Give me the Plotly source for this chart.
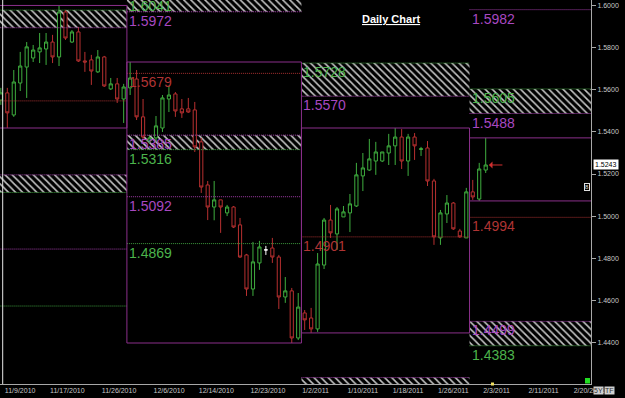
import datetime as dt
import plotly.graph_objects as go

# ---------------- data ----------------
first_day = "2010-11-08"
last_day = "2011-02-28"


def trading_days(a, b):
    d, e = dt.date.fromisoformat(a), dt.date.fromisoformat(b)
    out = []
    while d <= e:
        if d.weekday() != 5:  # daily FX bars: Sunday..Friday
            out.append(d)
        d += dt.timedelta(days=1)
    return out


dates = trading_days(first_day, last_day)

open_ = [1.5552, 1.5586, 1.5481, 1.5633, 1.5709, 1.5752, 1.5781, 1.5795, 1.5828, 1.5757,
         1.5971, 1.5828, 1.5876, 1.5738, 1.5743, 1.5686, 1.5757, 1.5605, 1.5629, 1.5557,
         1.5610, 1.5652, 1.5472, 1.5357, 1.5372, 1.5419, 1.5557, 1.5581, 1.5510, 1.5510,
         1.5505, 1.5353, 1.5148, 1.5043, 1.5077, 1.5015, 1.5043, 1.4958, 1.4815, 1.4653,
         1.4777, 1.4839, 1.4848, 1.4805, 1.4615, 1.4644, 1.4420, 1.4539, 1.4515, 1.4463,
         1.4767, 1.4981, 1.4915, 1.4996, 1.5015, 1.5048, 1.5191, 1.5219, 1.5262, 1.5262,
         1.5300, 1.5334, 1.5376, 1.5262, 1.5376, 1.5317, 1.5324, 1.5167, 1.4896, 1.5010,
         1.5062, 1.4929, 1.4896, 1.5115, 1.5081, 1.5219]
high = [1.5610, 1.5610, 1.5695, 1.5781, 1.5828, 1.5814, 1.5871, 1.5871, 1.5862, 1.6002,
        1.5981, 1.5885, 1.5900, 1.5781, 1.5767, 1.5790, 1.5762, 1.5657, 1.5657, 1.5629,
        1.5733, 1.5695, 1.5557, 1.5386, 1.5476, 1.5576, 1.5619, 1.5590, 1.5557, 1.5562,
        1.5543, 1.5372, 1.5167, 1.5167, 1.5077, 1.5053, 1.5048, 1.4991, 1.4820, 1.4877,
        1.4882, 1.4858, 1.4896, 1.4815, 1.4710, 1.4658, 1.4634, 1.4553, 1.4563, 1.4824,
        1.4991, 1.5053, 1.5043, 1.5048, 1.5105, 1.5253, 1.5300, 1.5367, 1.5353, 1.5305,
        1.5391, 1.5419, 1.5414, 1.5391, 1.5395, 1.5329, 1.5357, 1.5177, 1.5029, 1.5100,
        1.5067, 1.4939, 1.5134, 1.5172, 1.5253, 1.5372]
low = [1.5529, 1.5419, 1.5472, 1.5595, 1.5562, 1.5733, 1.5728, 1.5719, 1.5728, 1.5714,
       1.5838, 1.5824, 1.5733, 1.5686, 1.5624, 1.5681, 1.5614, 1.5600, 1.5538, 1.5443,
       1.5576, 1.5457, 1.5362, 1.5348, 1.5353, 1.5400, 1.5495, 1.5472, 1.5467, 1.5491,
       1.5305, 1.5110, 1.4981, 1.4980, 1.4920, 1.5000, 1.4943, 1.4801, 1.4620, 1.4620,
       1.4744, 1.4815, 1.4777, 1.4558, 1.4587, 1.4396, 1.4410, 1.4458, 1.4444, 1.4449,
       1.4748, 1.4896, 1.4839, 1.4996, 1.4924, 1.5043, 1.5119, 1.5215, 1.5196, 1.5257,
       1.5243, 1.5243, 1.5224, 1.5191, 1.5267, 1.5286, 1.5143, 1.4863, 1.4863, 1.4967,
       1.4934, 1.4896, 1.4896, 1.5077, 1.5072, 1.5205]
close = [1.5586, 1.5491, 1.5638, 1.5714, 1.5805, 1.5790, 1.5800, 1.5828, 1.5757, 1.5971,
         1.5847, 1.5876, 1.5738, 1.5733, 1.5690, 1.5757, 1.5619, 1.5629, 1.5557, 1.5614,
         1.5657, 1.5472, 1.5376, 1.5372, 1.5429, 1.5562, 1.5576, 1.5500, 1.5491, 1.5495,
         1.5329, 1.5138, 1.5043, 1.5077, 1.5043, 1.5043, 1.4948, 1.4805, 1.4653, 1.4782,
         1.4853, 1.4839, 1.4805, 1.4615, 1.4644, 1.4420, 1.4567, 1.4506, 1.4463, 1.4772,
         1.4981, 1.4920, 1.5034, 1.5020, 1.5058, 1.5196, 1.5229, 1.5272, 1.5305, 1.5305,
         1.5334, 1.5376, 1.5262, 1.5376, 1.5334, 1.5320, 1.5167, 1.4901, 1.5015, 1.5062,
         1.4939, 1.4901, 1.5115, 1.5091, 1.5224, 1.5243]

tick_dates = ["2010-11-09", "2010-11-17", "2010-11-26", "2010-12-06", "2010-12-14",
              "2010-12-23", "2011-01-02", "2011-01-10", "2011-01-18", "2011-01-26",
              "2011-02-03", "2011-02-11", "2011-02-20"]

# monthly levels projected into each month (None = off the chart)
level_months = [(2010, 11), (2010, 12), (2011, 1), (2011, 2)]
pivot = [1.5548, 1.5679, 1.4901, 1.4994]
r1 = [1.5896, 1.5972, 1.5570, 1.5488]
r2 = [1.5980, 1.6041, 1.5728, 1.5605]
r3 = [None, None, None, 1.5982]
s1 = [1.5196, 1.5385, 1.4232, 1.4499]
s2 = [1.5112, 1.5316, 1.4074, 1.4383]
s3 = [1.4843, 1.5092, None, None]
s4 = [1.4572, 1.4869, None, None]

y_ticks = [1.42, 1.44, 1.46, 1.48, 1.50, 1.52, 1.54, 1.56, 1.58, 1.60]
last_price = close[-1]

# ---------------- styles ----------------
GREEN = "#3fae3f"
RED = "#b83030"
BOX = "#8a2f8a"
PURPLE_DOT = "#a03ca8"
GREEN_DOT = "#3c9a3c"
RED_DOT = "#a83030"
PURPLE_TXT = "#a848c0"
GREEN_TXT = "#4cb44c"
RED_TXT = "#b03434"
AXIS = "#a8a8a8"
TICKTXT = "#c8c8c8"
X_RANGE = [-0.13, 91.29]
Y_RANGE = [1.4201, 1.6028]
PLOT_H = 384
PX_PER_UNIT = PLOT_H / (Y_RANGE[1] - Y_RANGE[0])
LABEL_FONT = "Liberation Sans"

# ---------------- derived ----------------
xi = list(range(len(open_)))


def month_span(y, m):
    idx = [i for i, d in enumerate(dates) if (d.year, d.month) == (y, m)]
    return idx[0] - 0.5, idx[-1] + 0.5, idx


fig = go.Figure()

# hatched zones
hx, hb, hh, hw = [], [], [], []
for k, (y, m) in enumerate(level_months):
    a, b, _ = month_span(y, m)
    for lo, hi in ((r1[k], r2[k]), (s2[k], s1[k])):
        if lo is None or hi is None:
            continue
        hx.append((a + b) / 2)
        hb.append(min(lo, hi))
        hh.append(abs(hi - lo))
        hw.append(b - a)
fig.add_trace(go.Bar(
    x=hx, y=hh, base=hb, width=hw,
    marker=dict(color="black", line=dict(width=0),
                pattern=dict(shape="\\", fgcolor="#c4c4c4", bgcolor="black",
                             size=5, solidity=0.32, fillmode="replace")),
    hoverinfo="skip"))

# level lines + labels
annotations = []
level_sets = [(r3, PURPLE_DOT, PURPLE_TXT), (r2, GREEN_DOT, GREEN_TXT),
              (r1, PURPLE_DOT, PURPLE_TXT), (pivot, RED_DOT, RED_TXT),
              (s1, PURPLE_DOT, PURPLE_TXT), (s2, GREEN_DOT, GREEN_TXT),
              (s3, PURPLE_DOT, PURPLE_TXT), (s4, GREEN_DOT, GREEN_TXT)]
for vals, lc, tc in level_sets:
    lx, ly = [], []
    for k, (y, m) in enumerate(level_months):
        v = vals[k]
        if v is None:
            continue
        a, b, _ = month_span(y, m)
        lx += [a, b, None]
        ly += [v, v, None]
        # label sits just under its line, at the left of the month; only if it fits
        if a >= X_RANGE[0] and Y_RANGE[0] + 0.007 <= v <= Y_RANGE[1] + 0.002:
            vy = min(v, Y_RANGE[1])
            annotations.append(dict(x=a, y=vy, xref="x", yref="y", text=f"{v:.4f}",
                                    showarrow=False, xanchor="left", yanchor="top",
                                    yshift=1 + (v - vy) * PX_PER_UNIT,
                                    font=dict(family=LABEL_FONT, size=14, color=tc)))
    fig.add_trace(go.Scatter(x=lx, y=ly, mode="lines", hoverinfo="skip",
                             line=dict(color=lc, width=1, dash="1px,1px")))

# monthly range boxes
bx, by = [], []
for (y, m) in level_months:
    a, b, idx = month_span(y, m)
    idx = [i for i in idx if i < len(open_)]
    if not idx:
        continue
    hi = max(high[i] for i in idx)
    lo = min(low[i] for i in idx)
    bx += [a, b, b, a, a, None]
    by += [lo, lo, hi, hi, lo, None]
fig.add_trace(go.Scatter(x=bx, y=by, mode="lines", hoverinfo="skip",
                         line=dict(color=BOX, width=1)))

# candles
dir_i = [i for i in xi if open_[i] != close[i]]
flat_i = [i for i in xi if open_[i] == close[i]]
fig.add_trace(go.Candlestick(
    x=dir_i, open=[open_[i] for i in dir_i], high=[high[i] for i in dir_i],
    low=[low[i] for i in dir_i], close=[close[i] for i in dir_i],
    increasing=dict(line=dict(color=GREEN, width=1), fillcolor="black"),
    decreasing=dict(line=dict(color=RED, width=1), fillcolor="black"),
    whiskerwidth=0, hoverinfo="skip"))
if flat_i:
    fig.add_trace(go.Candlestick(
        x=flat_i, open=[open_[i] for i in flat_i], high=[high[i] for i in flat_i],
        low=[low[i] for i in flat_i], close=[close[i] for i in flat_i],
        increasing=dict(line=dict(color="white", width=1), fillcolor="white"),
        decreasing=dict(line=dict(color="white", width=1), fillcolor="white"),
        whiskerwidth=0, hoverinfo="skip"))

# ---------------- axes / layout ----------------
tickvals = [dates.index(dt.date.fromisoformat(s)) for s in tick_dates]
ticktext = [f"{d.month}/{d.day}/{d.year}" for d in (dt.date.fromisoformat(s) for s in tick_dates)]

annotations += [
    dict(x=360 / 591, y=1 - 11 / 384, xref="paper", yref="paper", xanchor="left", yanchor="top",
         text="<b><u>Daily Chart</u></b>", showarrow=False,
         font=dict(family=LABEL_FONT, size=11, color="white")),
    dict(x=1, y=last_price, xref="paper", yref="y", xanchor="left", yanchor="middle",
         xshift=2, text=f"{last_price:.4f}", showarrow=False, bgcolor="white", borderpad=1,
         font=dict(family=LABEL_FONT, size=7, color="black")),
    dict(x=len(open_) - 1 + 0.5, y=last_price, xref="x", yref="y", ax=15, ay=0,
         text="", showarrow=True, arrowhead=1, arrowsize=1.2, arrowwidth=1, arrowcolor="#d03030"),
    dict(x=1, y=1 - 187 / 384, xref="paper", yref="paper", xanchor="right", yanchor="middle",
         xshift=-1, text="8", showarrow=False, bgcolor="black", bordercolor="#e0e0e0",
         borderwidth=1, borderpad=0, font=dict(family=LABEL_FONT, size=6, color="#e0e0e0")),
    dict(x=1, y=0, xref="paper", yref="paper", xanchor="left", yanchor="top", xshift=2, yshift=-2,
         text="5Y", showarrow=False, bgcolor="#d0d0d0", borderpad=0,
         font=dict(family=LABEL_FONT, size=7, color="#303030")),
    dict(x=1, y=0, xref="paper", yref="paper", xanchor="left", yanchor="top", xshift=13, yshift=-2,
         text="TF", showarrow=False, bgcolor="#d0d0d0", borderpad=0,
         font=dict(family=LABEL_FONT, size=7, color="#303030")),
]

shapes = [
    dict(type="line", xref="paper", yref="paper", x0=2.7 / 591, x1=2.7 / 591, y0=0, y1=1,
         line=dict(color="#e8e8e8", width=1)),
    dict(type="rect", xref="paper", yref="paper", x0=585 / 591, x1=590 / 591, y0=0.5 / 384, y1=6 / 384,
         fillcolor="#22dd22", line=dict(width=0)),
    dict(type="rect", xref="paper", yref="paper", x0=491 / 591, x1=494 / 591, y0=-1.5 / 384, y1=1.5 / 384,
         fillcolor="#f0e060", line=dict(width=0)),
]

fig.update_layout(
    width=625, height=398,
    margin=dict(l=0, r=34, t=0, b=14),
    paper_bgcolor="black", plot_bgcolor="black",
    showlegend=False, barmode="overlay",
    annotations=annotations, shapes=shapes,
    xaxis=dict(range=X_RANGE, showgrid=False, zeroline=False, showline=True, linecolor=AXIS,
               tickvals=tickvals, ticktext=ticktext, ticks="", ticklabelposition="outside right",
               ticklabelshift=-3, tickfont=dict(family=LABEL_FONT, size=7, color=TICKTXT),
               rangeslider=dict(visible=False), fixedrange=True),
    yaxis=dict(range=Y_RANGE, side="right", showgrid=False, zeroline=False, showline=True,
               linecolor=AXIS, tickvals=y_ticks, tickformat=".4f", ticks="outside", ticklen=4,
               tickcolor=AXIS, tickfont=dict(family=LABEL_FONT, size=7, color=TICKTXT),
               fixedrange=True),
)

fig.write_html("out.html")
